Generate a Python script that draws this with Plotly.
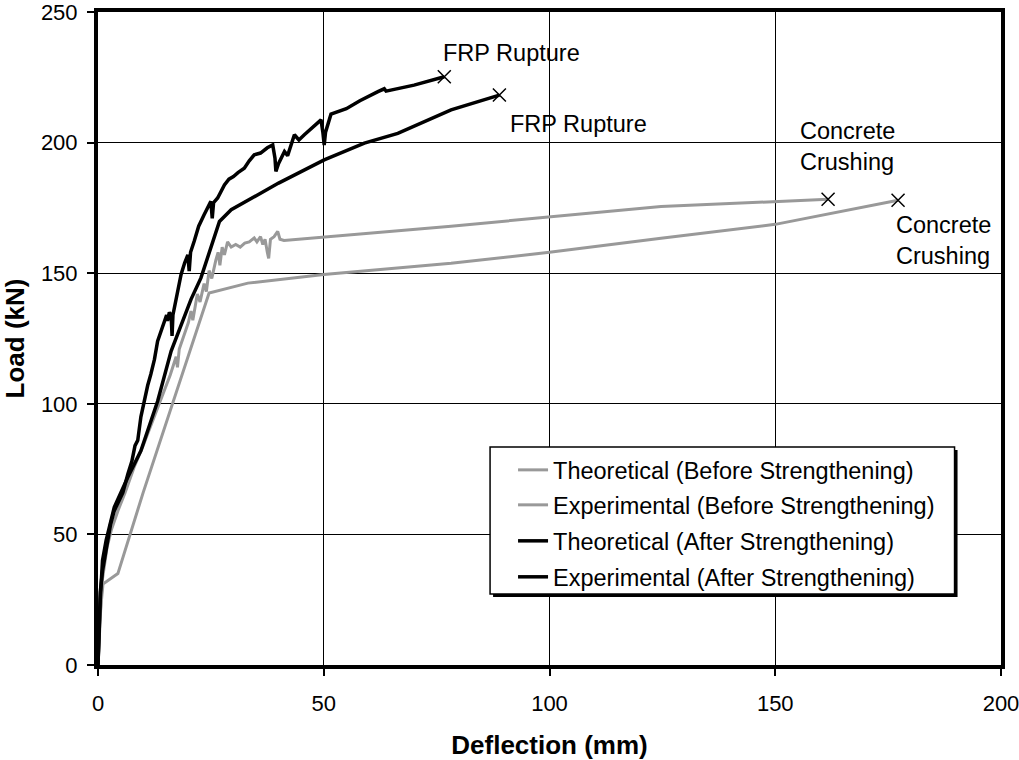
import plotly.graph_objects as go

# ---------------- data ----------------
theo_before_d = [0, 0.5, 1.1, 4.4, 10, 16.2, 20, 24.6, 33.2, 50, 78.2, 100, 124.7, 150, 177.2]
theo_before_L = [0, 20, 31, 35, 66, 98.5, 118, 142.4, 146.2, 149.5, 153.8, 158, 163.4, 168.7, 177.9]

exp_before_d = [0, 0.3, 0.7, 1.0, 1.4, 2.0, 3.0, 4.4, 6.0, 8.0, 10, 12, 14, 16, 17.3, 17.6, 18, 19, 20,
                20.6, 21, 22, 22.6, 23.5, 24, 24.6, 25.2, 26.1, 26.6, 27, 27.5, 28, 28.7, 29.5, 30.5,
                31.5, 32.5, 33.5, 34.6, 35.2, 36, 36.5, 37, 37.5, 37.8, 38.2, 39, 39.8, 40.3, 41.2,
                78.2, 124.7, 161.7]
exp_before_L = [0, 12, 25, 33, 38, 45, 52, 59, 66, 75.7, 84, 93, 102, 111, 118, 114, 121, 126, 131,
                135.5, 132, 142, 139, 146, 143, 151, 148, 155, 158, 153, 160, 157, 162, 160, 161,
                160, 161.5, 162, 163.5, 162, 164, 161, 163, 158, 155.7, 163, 164, 166, 163, 162.5,
                168, 175.5, 178.3]

theo_after_d = [0, 0.2, 0.5, 1.0, 1.8, 3.6, 6.6, 9.5, 13.2, 16.2, 17.3, 20.6, 22.8, 25, 26.9, 29.5,
                40, 50.1, 59, 66.4, 78.2, 88.9]
theo_after_L = [0, 10, 25, 40, 47.7, 60.4, 71.9, 82, 101, 120.2, 125.3, 140, 148.2, 160, 169.8, 174.3,
                184.5, 193.4, 199.8, 203.5, 212.5, 218.2]

exp_after_d = [0, 0.2, 0.5, 1.0, 1.4, 2, 2.8, 3.6, 4.5, 5.5, 6.6, 7.5, 8.2, 8.8, 9.5, 10.2, 11, 11.7,
               12.5, 13.2, 14, 14.7, 15.2, 15.4, 15.8, 16.2, 16.4, 16.6, 17.5, 18.4, 19.2, 19.9, 20.2,
               20.5, 21.3, 22.3, 23.5, 24.2, 25, 25.3, 25.6, 26.5, 27.2, 28, 29, 30, 31, 32.4, 33.5,
               34.6, 36, 37.5, 38.7, 39.2, 39.4, 40, 41.3, 42, 43.5, 44.5, 45.7, 47, 48.5, 49.4, 49.8,
               50.1, 50.4, 51.6, 55, 58, 62, 63.4, 63.8, 70, 76.7]
exp_after_L = [0, 15, 28, 36, 40, 46, 54, 59, 62, 66, 73, 78, 84, 86, 95, 101, 107, 111.3,
               117, 124, 128, 131.7, 134, 131.7, 135, 134, 126, 134, 142, 149.5, 154, 157, 150.8,
               158, 162.2, 168, 172.4, 175, 177.5, 171, 177, 178.8, 181, 183.8, 186, 187, 188.5, 190.2, 193,
               195.3, 196, 198, 199.1, 194, 189, 192, 196.6, 195, 203, 201, 203, 205, 207, 208.7, 204,
               199.1, 204, 210.9, 213, 216, 219.5, 220.6, 219.7, 222, 225.2]

x_ticks = [0, 50, 100, 150, 200]
y_ticks = [0, 50, 100, 150, 200, 250]

labels = {
    "frp1": "FRP Rupture",
    "frp2": "FRP Rupture",
    "cc1": "Concrete<br>Crushing",
    "cc2": "Concrete<br>Crushing",
}

GRAY = "#999999"
FONT = "Liberation Sans, Arial, sans-serif"

# plot area geometry (page pixels)
L_PX, R_PX, T_PX, B_PX = 97.5, 1001.5, 11.7, 665
W = R_PX - L_PX
H = B_PX - T_PX
FIG_W, FIG_H = 1019, 760

def px(x):
    return (x - L_PX) / W

def py(y):
    return (B_PX - y) / H

fig = go.Figure()

series = [
    ("Theoretical (Before Strengthening)", theo_before_d, theo_before_L, GRAY, 3),
    ("Experimental (Before Strengthening)", exp_before_d, exp_before_L, GRAY, 3),
    ("Theoretical (After Strengthening)", theo_after_d, theo_after_L, "black", 3.5),
    ("Experimental (After Strengthening)", exp_after_d, exp_after_L, "black", 3.5),
]
legend_ids = ["legend", "legend2", "legend3", "legend4"]
legend_rows = [470, 505, 541, 577]
for i, (name, d, L, c, w) in enumerate(series):
    fig.add_trace(go.Scatter(x=d, y=L, mode="lines", name=name, legend=legend_ids[i],
                             line=dict(color=c, width=w)))

# failure markers at end points
end_x = [s[1][-1] for s in series]
end_y = [s[2][-1] for s in series]
fig.add_trace(go.Scatter(x=end_x, y=end_y, mode="markers", showlegend=False,
                         marker=dict(symbol="x-thin", size=13, color="black",
                                     line=dict(color="black", width=1.5))))

ann_font = dict(family=FONT, size=23.5, color="black")
fig.add_annotation(x=76.0, y=234.2, text=labels["frp1"], showarrow=False, xanchor="left",
                   yanchor="middle", font=ann_font)
fig.add_annotation(x=90.8, y=207.2, text=labels["frp2"], showarrow=False, xanchor="left",
                   yanchor="middle", font=ann_font)
fig.add_annotation(x=155.0, y=198.5, text=labels["cc1"], showarrow=False, xanchor="left",
                   yanchor="middle", align="left", font=ann_font)
fig.add_annotation(x=176.4, y=162.5, text=labels["cc2"], showarrow=False, xanchor="left",
                   yanchor="middle", align="left", font=ann_font)

# legend box with shadow
fig.add_shape(type="rect", xref="paper", yref="paper",
              x0=px(493), x1=px(958), y0=py(597), y1=py(450),
              fillcolor="black", line=dict(width=0), layer="above")
fig.add_shape(type="rect", xref="paper", yref="paper",
              x0=px(490), x1=px(955), y0=py(594), y1=py(447),
              fillcolor="white", line=dict(color="black", width=1.5), layer="above")

axis_common = dict(showgrid=True, gridcolor="black", gridwidth=1, zeroline=False,
                   showline=True, linecolor="black", linewidth=4, mirror=True,
                   ticks="outside", ticklen=7, tickcolor="black", tickwidth=1.5,
                   automargin=False, ticklabeloverflow="allow",
                   tickfont=dict(family=FONT, size=22, color="black"))

legend_style = dict(xanchor="left", yanchor="middle", bgcolor="rgba(0,0,0,0)", borderwidth=0,
                    font=dict(family=FONT, size=23.5, color="black"), itemwidth=30)
legends = {}
for lid, row in zip(legend_ids, legend_rows):
    legends[lid] = dict(x=px(513), y=py(row), **legend_style)

fig.update_layout(
    width=FIG_W, height=FIG_H,
    margin=dict(l=L_PX, r=FIG_W - R_PX, t=T_PX, b=FIG_H - B_PX),
    paper_bgcolor="white", plot_bgcolor="white",
    font=dict(family=FONT, size=22, color="black"),
    xaxis=dict(range=[0, 200], tickvals=x_ticks, ticklabelstandoff=9,
               title=dict(text="<b>Deflection (mm)</b>", font=dict(family=FONT, size=26), standoff=26),
               **axis_common),
    yaxis=dict(range=[0, 250], tickvals=y_ticks, ticklabelstandoff=5,
               title=dict(text="<b>Load (kN)</b>", font=dict(family=FONT, size=26), standoff=10),
               **axis_common),
    showlegend=True,
    hovermode=False,
    **legends,
)

fig.write_html("out.html", config={"displayModeBar": False},
               post_script="document.body.style.margin='0';")
